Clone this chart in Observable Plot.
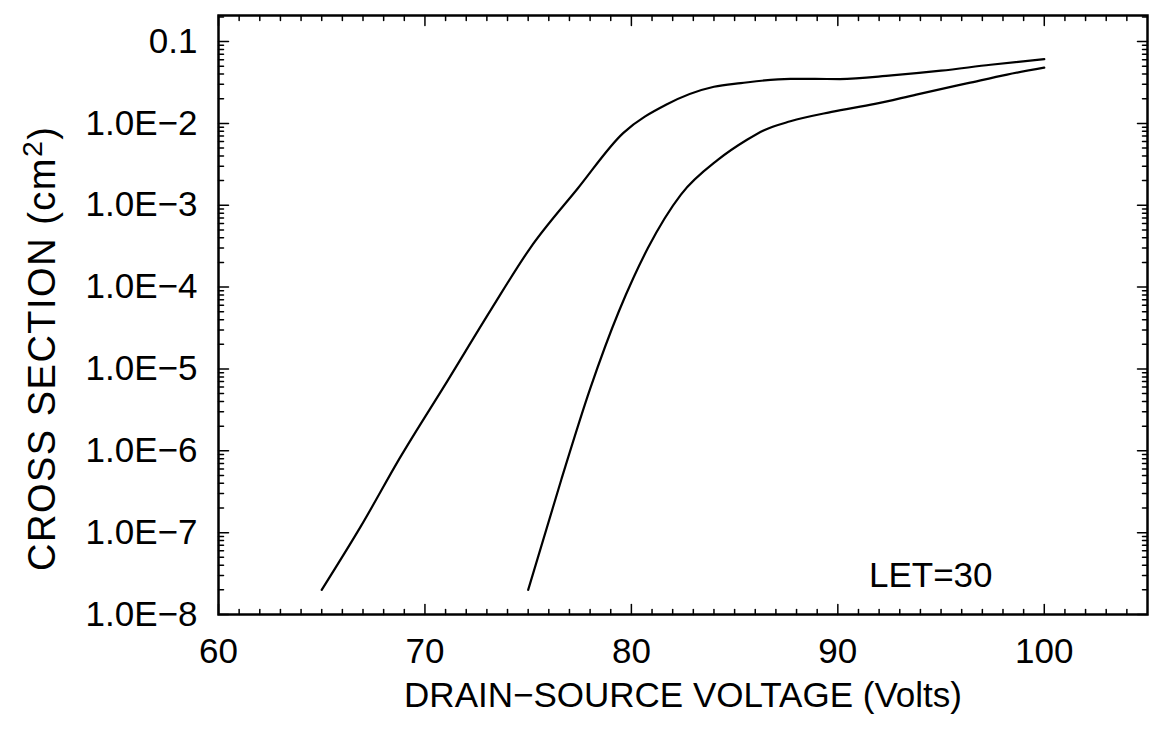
<!DOCTYPE html>
<html><head><meta charset="utf-8">
<script src="https://cdn.jsdelivr.net/npm/d3@7"></script>
<script src="https://cdn.jsdelivr.net/npm/@observablehq/plot@0.6"></script>
<style>body{margin:0;background:#fff} #chart svg{display:block}</style>
</head><body><div id="chart"></div>
<script>
// Left curve
const voltsA = [65.0, 66.9, 68.8, 71.1, 73.2, 75.1, 77.4, 79.6, 81.7, 84.0, 85.3, 87.7, 90.1, 92.6, 95.0, 97.4, 100.0];
const crossA = [2.0e-8, 1.2e-7, 8.3e-7, 7.2e-6, 5.3e-5, 3.0e-4, 1.6e-3, 7.6e-3, 1.7e-2, 2.8e-2, 3.1e-2, 3.5e-2, 3.48e-2, 3.85e-2, 4.4e-2, 5.2e-2, 6.1e-2];
// Right curve
const voltsB = [75.0, 76.6, 78.0, 79.4, 80.1, 80.8, 82.4, 84.2, 85.6, 86.4, 87.7, 89.7, 91.8, 93.8, 96.3, 98.2, 100.0];
const crossB = [2.0e-8, 4.4e-7, 5.7e-6, 5.1e-5, 1.3e-4, 3.0e-4, 1.35e-3, 3.6e-3, 6.3e-3, 8.2e-3, 1.06e-2, 1.38e-2, 1.73e-2, 2.25e-2, 3.1e-2, 3.95e-2, 4.8e-2];

const xTicks = [60, 70, 80, 90, 100];
const xTickLabels = ["60", "70", "80", "90", "100"];
const yTicks = [1e-8, 1e-7, 1e-6, 1e-5, 1e-4, 1e-3, 1e-2, 1e-1];
const yTickLabels = ["1.0E\u22128", "1.0E\u22127", "1.0E\u22126", "1.0E\u22125", "1.0E\u22124", "1.0E\u22123", "1.0E\u22122", "0.1"];
const xTitle = "DRAIN\u2212SOURCE VOLTAGE (Volts)";
const yTitle = "CROSS SECTION (cm2)";
const annotation = [{text: "LET=30", x: 94.5, y: 3.0e-8}];

const xDomain = [60, 105];
const yDomain = [1e-8, 0.208];

const series = [
  ...voltsA.map((v, i) => ({v, cs: crossA[i], s: "A"})),
  ...voltsB.map((v, i) => ({v, cs: crossB[i], s: "B"}))
];

const xMinor = d3.range(61, 105).filter(v => v % 10 !== 0);
const yMinor = [];
for (let e = -8; e <= -1; e++) for (let k = 2; k <= 9; k++) {
  const v = k * Math.pow(10, e);
  if (v <= yDomain[1]) yMinor.push(v);
}

const tickShape = {draw(ctx, l) { ctx.moveTo(0, 0); ctx.lineTo(0, -l); }};
const tk = (data, channel, anchor, rotate, len) => Plot.vector(data, {
  [channel]: d => d, frameAnchor: anchor, rotate, length: len, anchor: "start",
  shape: tickShape, stroke: "black", fill: "none", strokeWidth: 1.5
});

const FONT = "Liberation Sans, Arial, sans-serif";

const svg = Plot.plot({
  width: 1152, height: 737,
  marginLeft: 218, marginRight: 5, marginTop: 15, marginBottom: 123,
  style: {fontFamily: FONT, fontSize: "35px", color: "black", background: "white"},
  x: {domain: xDomain},
  y: {type: "log", domain: yDomain},
  marks: [
    tk(xMinor, "x", "bottom", 0, 5), tk(xTicks, "x", "bottom", 0, 10),
    tk(xMinor, "x", "top", 180, 5), tk(xTicks, "x", "top", 180, 10),
    tk(yMinor, "y", "left", 90, 5), tk(yTicks, "y", "left", 90, 10),
    tk(yMinor, "y", "right", -90, 5), tk(yTicks, "y", "right", -90, 10),
    Plot.frame({stroke: "black", strokeWidth: 2.5}),
    Plot.axisX({ticks: xTicks, tickSize: 0, tickPadding: 24, fontSize: 35,
      tickFormat: d => xTickLabels[xTicks.indexOf(d)], label: null}),
    Plot.axisY({ticks: yTicks, tickSize: 0, tickPadding: 21, fontSize: 35,
      tickFormat: d => yTickLabels[yTicks.indexOf(d)], label: null}),
    Plot.line(series, {x: "v", y: "cs", z: "s", stroke: "black", strokeWidth: 2.2, curve: "monotone-x"}),
    Plot.text(annotation, {x: "x", y: "y", text: "text", fontSize: 35}),
    Plot.text([xTitle], {frameAnchor: "bottom", textAnchor: "middle", dy: 92, fontSize: 35}),
    Plot.text([yTitle], {frameAnchor: "left", textAnchor: "start", rotate: -90, dx: -176, dy: 256, fontSize: 38})
  ]
});

d3.select(svg).selectAll("text").filter(function() { return this.textContent === yTitle; })
  .each(function() {
    const t = d3.select(this);
    t.attr("letter-spacing", 1.5);
    t.text("CROSS SECTION (cm");
    t.append("tspan").attr("dy", "-0.45em").attr("font-size", "0.75em").text("2");
    t.append("tspan").attr("dy", "0.34em").text(")");
  });

document.getElementById("chart").appendChild(svg);
</script>
</body></html>
